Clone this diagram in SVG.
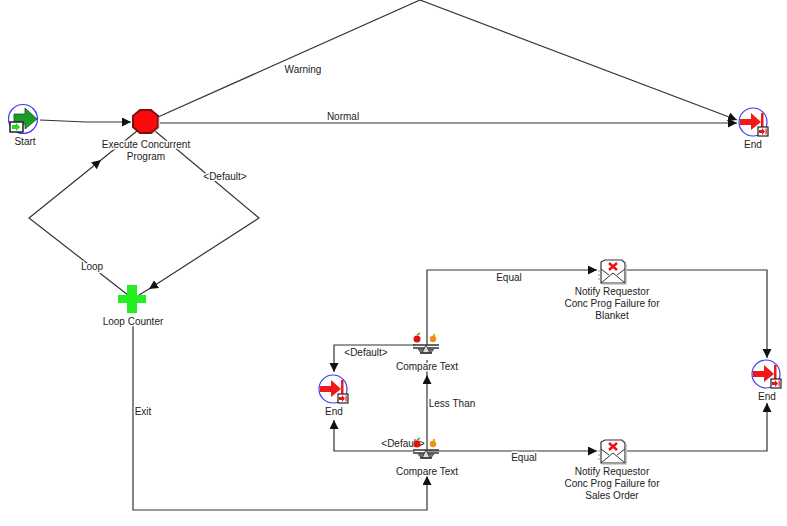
<svg xmlns="http://www.w3.org/2000/svg" xmlns:xlink="http://www.w3.org/1999/xlink" width="787" height="526" viewBox="0 0 787 526">
<style>
text{font-family:"Liberation Sans",Arial,sans-serif;font-size:10px;fill:#222;text-anchor:middle}
.lb{paint-order:stroke;stroke:#fff;stroke-width:3px;stroke-linejoin:round}
.c{fill:none;stroke:#333;stroke-width:1.2}
</style>
<defs>
<marker id="ah" markerUnits="userSpaceOnUse" markerWidth="10" markerHeight="10" refX="9" refY="4.5" orient="auto"><path d="M0 0L9 4.5L0 9Z" fill="#111"/></marker>
<g id="endIcon">
<circle r="14" fill="#fff" stroke="#3b3bf0" stroke-width="1.2"/>
<path d="M-13-3H-2V-9L8 0L-2 8V3H-13Z" fill="#f01818"/>
<rect x="8" y="-9" width="2.5" height="17" fill="#f01818"/>
<rect x="5" y="5" width="10" height="9" fill="#fff" stroke="#222" stroke-width="1.2"/>
<path d="M6 8H9V6L12 9.500L9 13V11H6Z" fill="#e01818"/><rect x="12.500" y="6.500" width="1.200" height="6" fill="#e01818"/>
</g>
<g id="cmpIcon">
<path d="M-13 0H13M-13 3H13" stroke="#333" stroke-width="1.500"/>
<path d="M-8 4H8L5 8H-5Z" fill="#777" stroke="#333" stroke-width=".6"/>
<path d="M0 0L-4 8H4Z" fill="#ddd" stroke="#222" stroke-width=".8"/>
<path d="M-6 8H6" stroke="#333" stroke-width="1.500"/>
<circle cx="-9" cy="-6" r="3.500" fill="#e01010"/><path d="M-9-10L-6-12" stroke="#2a2" stroke-width="1.500"/>
<circle cx="7" cy="-6" r="3.200" fill="#f09010"/><path d="M7-9.500L9-10.500" stroke="#c90" stroke-width="1.500"/>
</g>
<g id="mailIcon">
<path d="M-12-10L-8-12H9L12-9V11H-12Z" fill="#fff" stroke="#333" stroke-width="1.200"/>
<path d="M-12 11L0 1L12 11M-12-3L-4 3M12-3L4 3" fill="none" stroke="#333" stroke-width="1"/>
<path d="M-4-9L4-2M4-9L-4-2" stroke="#ee1111" stroke-width="2.500"/>
<path d="M13-8V12H-11" fill="none" stroke="#aaa" stroke-width="1.200"/>
<path d="M-15-1H-12M-15 3H-12M-15 7H-12" stroke="#999"/>
</g>
</defs>
<rect width="787" height="526" fill="#fff"/>
<g id="connectors">
<path class="c" marker-end="url(#ah)" d="M40 120L86 122H131"/>
<path class="c" marker-end="url(#ah)" d="M158 117L420 0L737 120"/>
<path class="c" marker-end="url(#ah)" d="M160 123H737"/>
<path class="c" marker-end="url(#ah)" d="M155 131L259 218L149 289"/>
<path class="c" d="M149 289L139 295"/>
<path class="c" marker-end="url(#ah)" d="M128 295L29 218L101 160"/>
<path class="c" d="M101 160L137 131"/>
<path class="c" marker-end="url(#ah)" d="M133 326V510H427V476"/>
<path class="c" marker-end="url(#ah)" d="M427 450V375"/>
<path class="c" d="M427 375V360"/>
<path class="c" marker-end="url(#ah)" d="M427 345V270H597"/>
<path class="c" marker-end="url(#ah)" d="M627 270H767V358"/>
<path class="c" marker-end="url(#ah)" d="M427 451H597"/>
<path class="c" marker-end="url(#ah)" d="M627 451H767V403"/>
<path class="c" marker-end="url(#ah)" d="M415 345H334V372"/>
<path class="c" marker-end="url(#ah)" d="M415 451H334V420"/>
</g>
<g id="edge-labels">
<text class="lb" x="303" y="73">Warning</text>
<text class="lb" x="343" y="120">Normal</text>
<text class="lb" x="225" y="180">&lt;Default&gt;</text>
<text class="lb" x="92" y="270">Loop</text>
<text class="lb" x="143" y="415">Exit</text>
<text class="lb" x="509" y="281">Equal</text>
<text class="lb" x="366" y="356">&lt;Default&gt;</text>
<text class="lb" x="452" y="407">Less Than</text>
<text class="lb" x="403" y="447">&lt;Default&gt;</text>
<text class="lb" x="524" y="461">Equal</text>
</g>
<g id="start">
<circle cx="23" cy="119" r="14.500" fill="#fff" stroke="#3b3bf0" stroke-width="1.200"/>
<path d="M14 114H25V108L37 119L25 129V124H14Z" fill="#1c9a2c" stroke="#0c5a18" stroke-width=".8"/>
<rect x="10" y="122" width="13" height="10" fill="#fff" stroke="#222" stroke-width="1.500"/>
<path d="M12 125H16V123L20 127L16 131V129H12Z" fill="#22dd22"/>
<text x="25" y="145">Start</text>
</g>
<g id="execute">
<path d="M140 110H151L158 116V127L151 133H140L133 127V116Z" fill="#fa0a0a" stroke="#7a1010" stroke-width="2"/>
<path d="M152 134L159 128V117" fill="none" stroke="#bbb"/>
<text class="lb" x="146" y="148">Execute Concurrent</text>
<text class="lb" x="146" y="160">Program</text>
</g>
<g id="end-top"><use xlink:href="#endIcon" href="#endIcon" x="753" y="122"/><text x="753" y="148">End</text></g>
<g id="loop-counter">
<path d="M127 285H137V295H146V303H137V313H127V303H118V295H127Z" fill="#22ee22"/>
<text class="lb" x="133" y="325">Loop Counter</text>
</g>
<g id="compare-top"><use xlink:href="#cmpIcon" href="#cmpIcon" x="426" y="345"/><text class="lb" x="427" y="370">Compare Text</text></g>
<g id="compare-bottom"><use xlink:href="#cmpIcon" href="#cmpIcon" x="426" y="450"/><text class="lb" x="427" y="475">Compare Text</text></g>
<g id="end-left"><use xlink:href="#endIcon" href="#endIcon" x="333" y="389"/><text x="334" y="415">End</text></g>
<g id="notify-top"><use xlink:href="#mailIcon" href="#mailIcon" x="613" y="272"/>
<text x="612" y="295">Notify Requestor</text><text x="612" y="307">Conc Prog Failure for</text><text x="612" y="319">Blanket</text></g>
<g id="notify-bottom"><use xlink:href="#mailIcon" href="#mailIcon" x="613" y="452"/>
<text x="612" y="475">Notify Requestor</text><text x="612" y="487">Conc Prog Failure for</text><text x="612" y="499">Sales Order</text></g>
<g id="end-right"><use xlink:href="#endIcon" href="#endIcon" x="766" y="374"/><text x="767" y="400">End</text></g>
</svg>
